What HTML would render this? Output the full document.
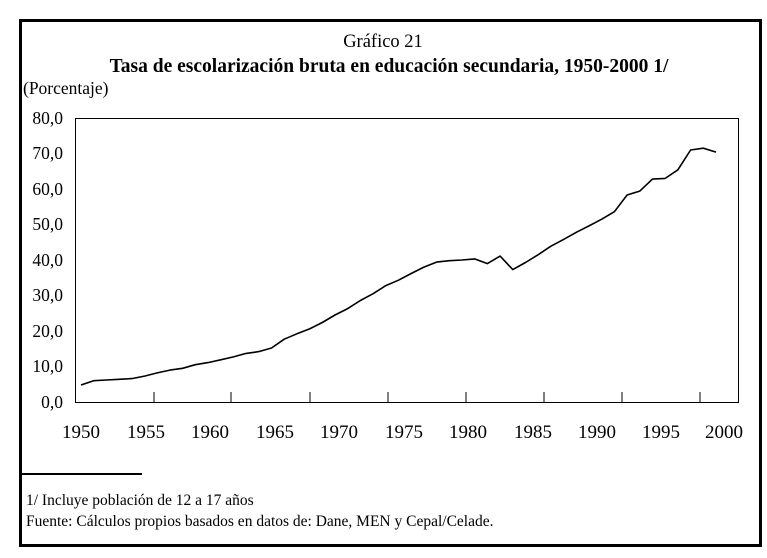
<!DOCTYPE html><html><head><meta charset="utf-8"><style>
body{margin:0;background:#fff;width:767px;height:553px;overflow:hidden}
svg text{font-family:"Liberation Serif",serif;fill:#000}
</style></head><body>
<svg width="767" height="553" xmlns="http://www.w3.org/2000/svg">
<rect x="20.5" y="20.5" width="740" height="525" fill="none" stroke="#000" stroke-width="3"/>
<text x="383" y="47" font-size="18.5" text-anchor="middle">Gráfico 21</text>
<text x="389" y="72" font-size="19.5" font-weight="bold" text-anchor="middle">Tasa de escolarización bruta en educación secundaria, 1950-2000 1/</text>
<text x="23" y="94" font-size="17.5">(Porcentaje)</text>
<rect x="75.5" y="118.5" width="663" height="284" fill="none" stroke="#000" stroke-width="1"/>
<g font-size="17.5" text-anchor="end">
<text x="63" y="124">80,0</text><text x="63" y="159">70,0</text><text x="63" y="195">60,0</text><text x="63" y="230">50,0</text><text x="63" y="266">40,0</text><text x="63" y="301">30,0</text><text x="63" y="337">20,0</text><text x="63" y="372">10,0</text><text x="63" y="408">0,0</text>
</g>
<g stroke="#000" stroke-width="1">
<line x1="154" y1="392" x2="154" y2="402"/><line x1="231" y1="392" x2="231" y2="402"/><line x1="310" y1="392" x2="310" y2="402"/><line x1="388" y1="392" x2="388" y2="402"/><line x1="466" y1="392" x2="466" y2="402"/><line x1="544" y1="392" x2="544" y2="402"/><line x1="622" y1="392" x2="622" y2="402"/><line x1="700" y1="392" x2="700" y2="402"/>
</g>
<g font-size="19" text-anchor="middle">
<text x="81" y="438">1950</text><text x="146" y="438">1955</text><text x="210" y="438">1960</text><text x="275" y="438">1965</text><text x="339" y="438">1970</text><text x="404" y="438">1975</text><text x="468" y="438">1980</text><text x="533" y="438">1985</text><text x="597" y="438">1990</text><text x="661" y="438">1995</text><text x="724" y="438">2000</text>
</g>
<polyline fill="none" stroke="#000" stroke-width="1.6" stroke-linejoin="round" id="ln" points=""/>
<line x1="20" y1="474" x2="142" y2="474" stroke="#000" stroke-width="2"/>
<text x="26" y="505" font-size="15.5">1/ Incluye población de 12 a 17 años</text>
<text x="26" y="526" font-size="15.5">Fuente: Cálculos propios basados en datos de: Dane,  MEN y Cepal/Celade.</text>
<script>
var v=[4.8,6.0,6.2,6.4,6.6,7.3,8.2,9.0,9.5,10.5,11.1,11.9,12.7,13.7,14.2,15.2,17.7,19.2,20.6,22.4,24.5,26.3,28.6,30.5,32.8,34.3,36.2,38.0,39.4,39.8,40.0,40.3,39.0,41.1,37.3,39.3,41.5,43.9,45.8,47.8,49.6,51.5,53.6,58.3,59.4,62.8,63.0,65.4,71.0,71.5,70.4];
document.getElementById('ln').setAttribute('points',v.map(function(y,i){return (81+i*12.7).toFixed(1)+','+(402-y*3.55).toFixed(1)}).join(' '));
</script>
</svg></body></html>
